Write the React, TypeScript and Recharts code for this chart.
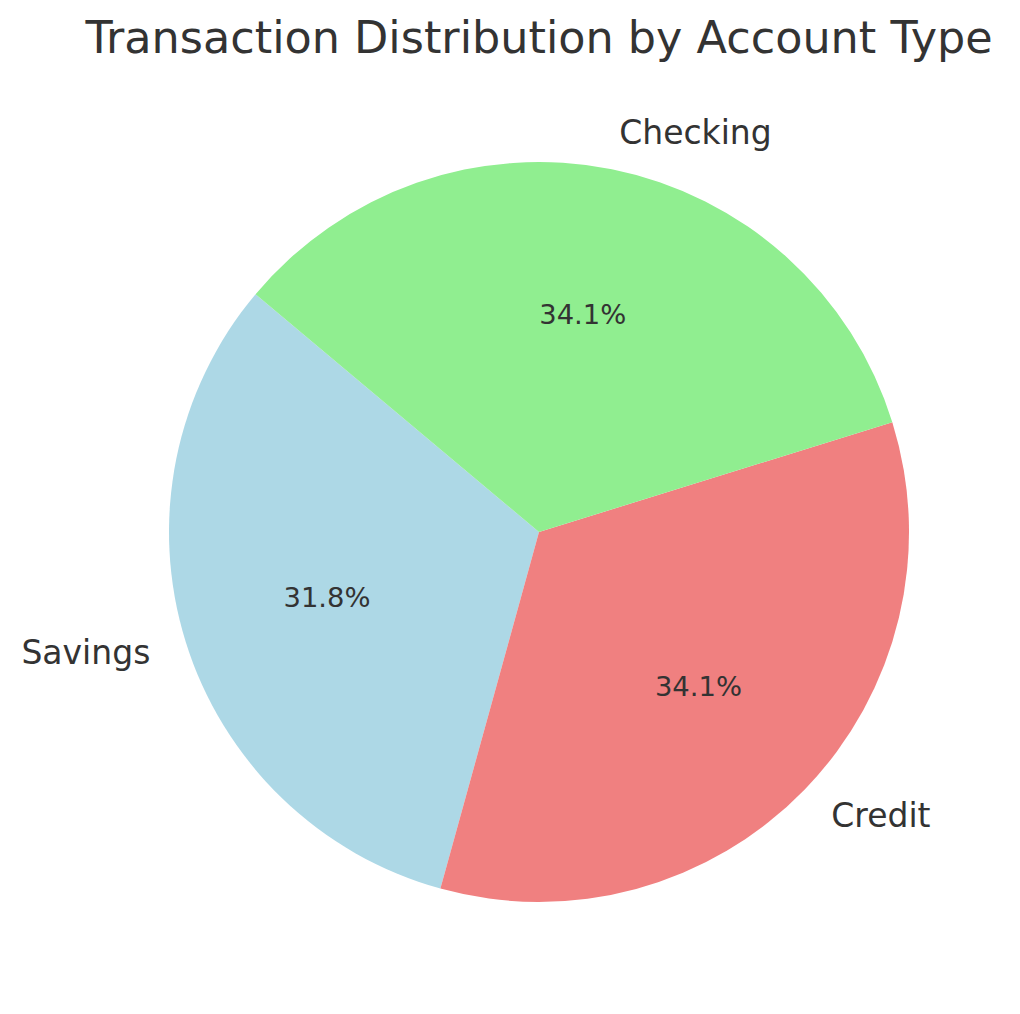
import React from "react";
import { PieChart, Pie, Cell } from "recharts";

const accountTypes = ["Savings", "Credit", "Checking"];
const transactionCounts = [14, 15, 15];
const COLORS = ["#ADD8E6", "#F08080", "#90EE90"];

const data = accountTypes.map((name, i) => ({ name, value: transactionCounts[i] }));

const RADIAN = Math.PI / 180;
const FONT = "'DejaVu Sans', sans-serif";

const renderLabel = (props: any) => {
  const { cx, cy, midAngle, outerRadius, percent, name } = props;
  const cos = Math.cos(-midAngle * RADIAN);
  const sin = Math.sin(-midAngle * RADIAN);
  const ox = cx + outerRadius * 1.1 * cos;
  const oy = cy + outerRadius * 1.1 * sin;
  const ix = cx + outerRadius * 0.6 * cos;
  const iy = cy + outerRadius * 0.6 * sin;
  return (
    <g>
      <text
        x={ox}
        y={oy}
        fill="#333333"
        fontSize={33}
        fontFamily={FONT}
        textAnchor={cos >= 0 ? "start" : "end"}
        dominantBaseline="central"
      >
        {name}
      </text>
      <text
        x={ix}
        y={iy}
        fill="#333333"
        fontSize={27.4}
        fontFamily={FONT}
        textAnchor="middle"
        dominantBaseline="central"
      >
        {(percent * 100).toFixed(1) + "%"}
      </text>
    </g>
  );
};

export default function App() {
  return (
    <div style={{ position: "absolute", left: 0, top: 0, width: 1020, height: 1014, background: "#fff" }}>
      <PieChart width={1020} height={1014} margin={{ top: 0, right: 0, bottom: 0, left: 0 }}>
        <Pie
          data={data}
          dataKey="value"
          nameKey="name"
          cx={539}
          cy={532}
          outerRadius={370}
          startAngle={140}
          endAngle={500}
          stroke="none"
          label={renderLabel}
          labelLine={false}
          isAnimationActive={false}
        >
          {data.map((entry, index) => (
            <Cell key={`cell-${index}`} fill={COLORS[index % COLORS.length]} />
          ))}
        </Pie>
      </PieChart>
      <svg
        width={1020}
        height={100}
        style={{ position: "absolute", left: 0, top: 0, pointerEvents: "none" }}
      >
        <text x={539} y={53} textAnchor="middle" fontSize={44.5} fontFamily={FONT} fill="#333333">
          Transaction Distribution by Account Type
        </text>
      </svg>
    </div>
  );
}
